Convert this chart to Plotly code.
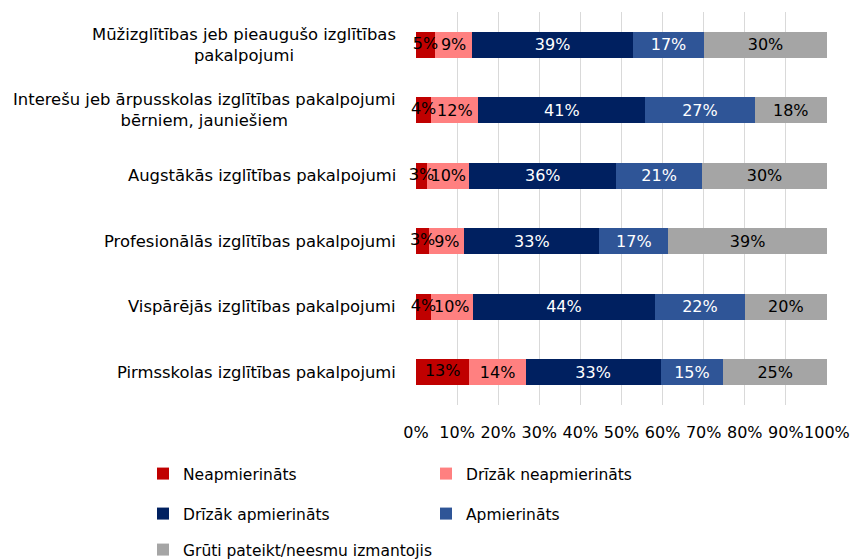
import plotly.graph_objects as go

# Survey categories (top to bottom as displayed)
categories = [
    "Mūžizglītības jeb pieaugušo izglītības<br>pakalpojumi",
    "Interešu jeb ārpusskolas izglītības pakalpojumi<br>bērniem, jauniešiem",
    "Augstākās izglītības pakalpojumi",
    "Profesionālās izglītības pakalpojumi",
    "Vispārējās izglītības pakalpojumi",
    "Pirmsskolas izglītības pakalpojumi",
]

series_names = [
    "Neapmierināts",
    "Drīzāk neapmierināts",
    "Drīzāk apmierināts",
    "Apmierināts",
    "Grūti pateikt/neesmu izmantojis",
]

# Shares in percent, one list per answer option, same order as categories
neapmierinats = [4.6, 3.7, 2.7, 3.2, 3.6, 13.0]
drizak_neapmierinats = [9.1, 11.5, 10.3, 8.6, 10.2, 13.7]
drizak_apmierinats = [39.1, 40.6, 35.7, 32.8, 44.4, 32.8]
apmierinats = [17.3, 26.6, 20.9, 16.8, 21.8, 15.3]
gruti_pateikt = [29.9, 17.6, 30.4, 38.6, 20.0, 25.2]

x_ticks = list(range(0, 101, 10))
x_tick_labels = [f"{t}%" for t in x_ticks]

series_values = [neapmierinats, drizak_neapmierinats, drizak_apmierinats,
                 apmierinats, gruti_pateikt]
colors = ["#C00000", "#FF8080", "#002060", "#2F5597", "#A5A5A5"]
text_colors = ["#000000", "#000000", "#FFFFFF", "#FFFFFF", "#000000"]
legend_ids = ["legend", "legend", "legend2", "legend2", "legend3"]

FONT = "DejaVu Sans"
LABEL_SIZE = 16

fig = go.Figure()
for i, (name, vals, col, tcol, lg) in enumerate(zip(series_names, series_values,
                                                    colors, text_colors, legend_ids)):
    first = i == 0
    fig.add_trace(go.Bar(
        y=categories,
        x=vals,
        name=name,
        orientation="h",
        marker=dict(color=col, line=dict(width=0)),
        # the narrow first segment gets its labels from a text layer on top
        texttemplate=None if first else "%{x:.0f}%",
        textposition="none" if first else "inside",
        insidetextanchor="middle",
        textangle=0,
        constraintext="none",
        textfont=dict(color=tcol, size=LABEL_SIZE, family=FONT),
        legend=lg,
        hoverinfo="skip",
    ))

# Labels of the first segment, centred on it and free to spill past its edges
fig.add_trace(go.Scatter(
    x=[v / 2 for v in neapmierinats],
    y=categories,
    mode="text",
    text=[f"{v:.0f}%" for v in neapmierinats],
    textposition="middle center",
    textfont=dict(color="#000000", size=LABEL_SIZE, family=FONT),
    showlegend=False,
    hoverinfo="skip",
    cliponaxis=False,
))

# Centered category labels to the left of the plot area
for cat in categories:
    fig.add_annotation(
        x=0, xref="paper", y=cat, yref="y",
        text=cat, showarrow=False, xanchor="right", align="center",
        xshift=-18, font=dict(family=FONT, size=16.4, color="#000000"),
    )

W, H = 852, 560
ml, mr, mt, mb = 416, 25, 12, 155
pw, ph = W - ml - mr, H - mt - mb


def px_to_paper_x(px):
    return (px - ml) / pw


def px_to_paper_y(py):
    return (H - mb - py) / ph


legend_common = dict(
    orientation="h", xanchor="left", yanchor="middle",
    traceorder="normal",
    font=dict(family=FONT, size=15.5, color="#000000"),
    bgcolor="rgba(0,0,0,0)", itemclick=False, itemdoubleclick=False,
    tracegroupgap=0,
)

fig.update_layout(
    width=W, height=H,
    margin=dict(l=ml, r=mr, t=mt, b=mb, pad=0, autoexpand=False),
    barmode="stack",
    bargap=0.6,
    plot_bgcolor="white", paper_bgcolor="white",
    font=dict(family=FONT, size=15, color="#000000"),
    uniformtext=dict(minsize=LABEL_SIZE, mode="show"),
    showlegend=True,
    legend=dict(x=px_to_paper_x(143), y=px_to_paper_y(474),
                entrywidth=238, entrywidthmode="pixels", **legend_common),
    legend2=dict(x=px_to_paper_x(143), y=px_to_paper_y(514),
                 entrywidth=238, entrywidthmode="pixels", **legend_common),
    legend3=dict(x=px_to_paper_x(143), y=px_to_paper_y(550), **legend_common),
    xaxis=dict(
        range=[0, 100.01], tickvals=x_ticks, ticktext=x_tick_labels,
        tickangle=0, automargin=False,
        showgrid=True, gridcolor="#D9D9D9", gridwidth=1.3,
        zeroline=False, showline=False,
        ticks="outside", ticklen=13, tickcolor="rgba(0,0,0,0)",
        tickfont=dict(family=FONT, size=16, color="#000000"),
        fixedrange=True,
    ),
    yaxis=dict(
        categoryorder="array", categoryarray=categories[::-1],
        showticklabels=False, showgrid=False, zeroline=False,
        autorange=True, fixedrange=True, automargin=False,
    ),
)

fig.write_html("out.html", config={"displayModeBar": False})
